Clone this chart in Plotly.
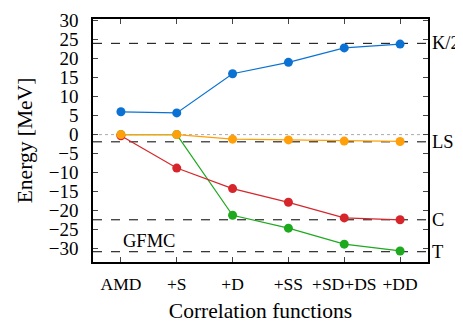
import plotly.graph_objects as go

categories = ["AMD", "+S", "+D", "+SS", "+SD+DS", "+DD"]
k_half = [6.0, 5.7, 16.0, 19.0, 22.8, 23.8]
ls = [0.0, 0.0, -1.2, -1.4, -1.7, -1.8]
central = [-0.3, -8.8, -14.2, -17.8, -21.9, -22.4]
tensor = [0.0, 0.0, -21.2, -24.6, -28.8, -30.6]

ref_names = ["K/2", "LS", "C", "T"]
ref_values = [24.0, -1.9, -22.4, -30.8]

font_family = "Liberation Serif"
x_idx = list(range(len(categories)))

fig = go.Figure()

# zero dotted line
fig.add_trace(go.Scatter(x=[-0.5, 5.5], y=[0, 0], mode="lines",
                         line=dict(color="#aaaaaa", width=1, dash="dot"),
                         showlegend=False, hoverinfo="skip"))
# GFMC reference lines
for v in ref_values:
    fig.add_trace(go.Scatter(x=[-0.5, 5.5], y=[v, v], mode="lines",
                             line=dict(color="black", width=1, dash="dash"),
                             showlegend=False, hoverinfo="skip"))

series = [
    (k_half, "#0b72d4"),
    (tensor, "#1ea91e"),
    (central, "#d6262b"),
    (ls, "#ffa00a"),
]
for vals, col in series:
    fig.add_trace(go.Scatter(x=x_idx, y=vals, mode="lines+markers",
                             line=dict(color=col, width=1.2),
                             marker=dict(color=col, size=9),
                             showlegend=False))

for name, v in zip(ref_names, ref_values):
    fig.add_annotation(x=1.0, xref="paper", y=v, yref="y", text=name,
                       showarrow=False, xanchor="left", xshift=2,
                       font=dict(family=font_family, size=18.5, color="black"))

fig.add_annotation(x=0.5, y=-27.9, xref="x", yref="y", text="GFMC",
                   showarrow=False, font=dict(family=font_family, size=18.5, color="black"))

# page body has an 8px default margin; figure sized to fill the remaining window
fig.update_layout(
    width=455, height=316,
    margin=dict(l=85, r=35, t=11, b=62),
    plot_bgcolor="white", paper_bgcolor="white",
    font=dict(family=font_family, size=19, color="black"),
)
fig.update_xaxes(range=[-0.5, 5.5], tickmode="array", tickvals=x_idx,
                 ticktext=categories, ticks="inside", ticklen=5, tickangle=0,
                 tickfont=dict(size=17.5),
                 showline=True, linecolor="black", linewidth=1.5, mirror="ticks",
                 showgrid=False, zeroline=False, automargin=False,
                 title=dict(text="Correlation functions", font=dict(size=21.5), standoff=10),
                 ticklabelstandoff=5)
fig.update_yaxes(range=[-33.5, 30.4], tickmode="array",
                 tickvals=list(range(-30, 31, 5)), ticks="inside", ticklen=5,
                 showline=True, linecolor="black", linewidth=1.5, mirror="ticks",
                 showgrid=False, zeroline=False, automargin=False,
                 title=dict(text="Energy [MeV]", font=dict(size=21.5), standoff=10),
                 ticklabelstandoff=9)

fig.write_html("out.html")
